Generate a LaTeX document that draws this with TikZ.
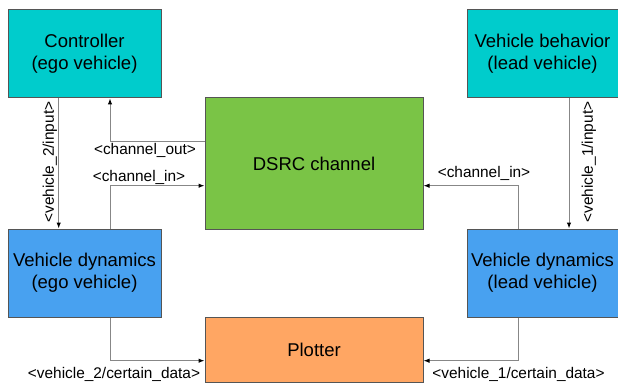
\documentclass[tikz,border=0pt]{standalone}
\usepackage{fontspec}
\setmainfont{Liberation Sans}
\usetikzlibrary{arrows.meta}
\definecolor{cyanbox}{RGB}{0,204,204}
\definecolor{greenbox}{RGB}{122,196,70}
\definecolor{bluebox}{RGB}{72,161,240}
\definecolor{orangebox}{RGB}{255,166,99}
\definecolor{edgegray}{RGB}{85,85,85}
\definecolor{linegray}{RGB}{135,135,135}
\begin{document}
\begin{tikzpicture}[x=1pt,y=-1pt,
  box/.style={draw=edgegray,line width=1pt,rectangle,inner sep=0pt,align=center,
    font=\fontsize{18.5}{22}\selectfont},
  conn/.style={draw=linegray,line width=1pt,-{Latex[length=6pt,width=4.5pt,color=black]}},
  lbl/.style={inner sep=0pt,font=\fontsize{15.4}{18}\selectfont}]
\useasboundingbox (0,0) rectangle (618,385);
\node[box,fill=cyanbox,minimum width=153pt,minimum height=88pt] (ctrl) at (84.5,54) {Controller\\(ego vehicle)};
\node[box,fill=cyanbox,minimum width=151pt,minimum height=88pt] (vb) at (542.5,54) {Vehicle behavior\\(lead vehicle)};
\node[box,fill=greenbox,minimum width=218pt,minimum height=131pt] (dsrc) at (314,163.5) {DSRC channel};
\node[box,fill=bluebox,minimum width=153pt,minimum height=88pt] (vde) at (84.5,273) {Vehicle dynamics\\(ego vehicle)};
\node[box,fill=bluebox,minimum width=151pt,minimum height=88pt] (vdl) at (542.5,273) {Vehicle dynamics\\(lead vehicle)};
\node[box,fill=orangebox,minimum width=218pt,minimum height=65pt] (plot) at (314,349.5) {Plotter};
% helper coordinates
\coordinate (xl) at (58.7,0);
\coordinate (xe) at (110,0);
\coordinate (xr) at (569,0);
\coordinate (xd) at (518,0);
\coordinate (yout) at (0,141.7);
\coordinate (yin) at (0,185.7);
\coordinate (ydat) at (0,360.7);
% connectors
\draw[conn] (ctrl.south -| xl) -- (vde.north -| xl);
\draw[conn] (vb.south -| xr) -- (vdl.north -| xr);
\draw[conn] (dsrc.west |- yout) -- (xe |- yout) -- (ctrl.south -| xe);
\draw[conn] (vde.north -| xe) -- (xe |- yin) -- (dsrc.west |- yin);
\draw[conn] (vdl.north -| xd) -- (xd |- yin) -- (dsrc.east |- yin);
\draw[conn] (vde.south -| xe) -- (xe |- ydat) -- (plot.west |- ydat);
\draw[conn] (vdl.south -| xd) -- (xd |- ydat) -- (plot.east |- ydat);
% labels
\node[lbl,rotate=90] (l1) at (50,162) {<vehicle\_2/input>};
\node[lbl,rotate=90] (l2) at (589,162) {<vehicle\_1/input>};
\node[lbl] (l3) at (145,150) {<channel\_out>};
\node[lbl] (l4) at (139,177) {<channel\_in>};
\node[lbl] (l5) at (484,173.5) {<channel\_in>};
\node[lbl] (l6) at (114,374) {<vehicle\_2/certain\_data>};
\node[lbl] (l7) at (518.5,374) {<vehicle\_1/certain\_data>};
\end{tikzpicture}
\end{document}
